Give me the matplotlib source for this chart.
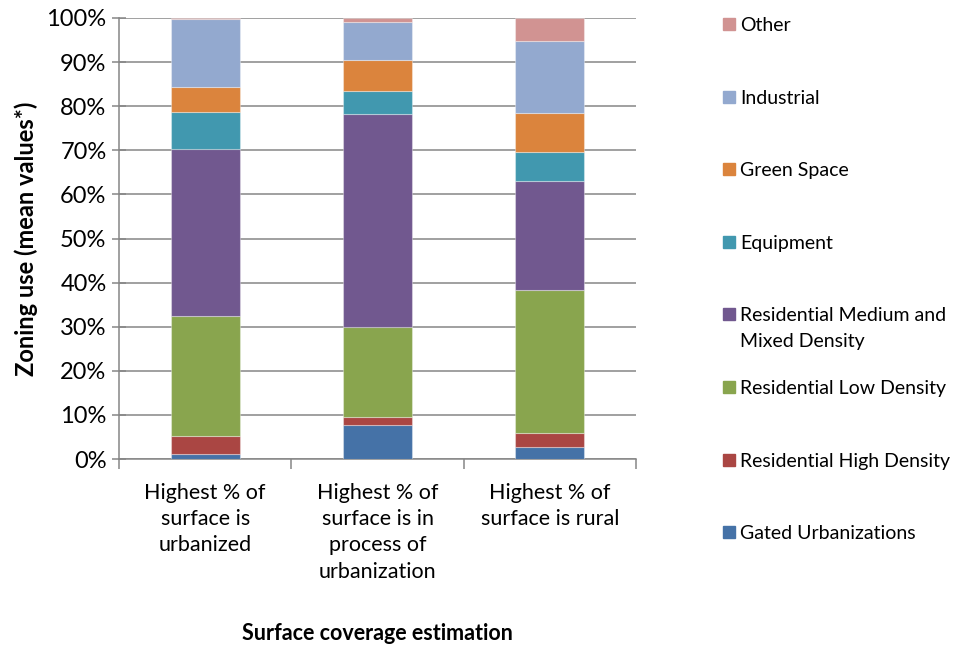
import numpy as np
import matplotlib.pyplot as plt
from matplotlib.patches import Rectangle
from matplotlib.ticker import PercentFormatter

plt.rcParams['font.family'] = ['Lato', 'DejaVu Sans']

# zoning use shares (%) per surface coverage class
categories = ['Highest % of\nsurface is\nurbanized',
              'Highest % of\nsurface is in\nprocess of\nurbanization',
              'Highest % of\nsurface is rural']
series = ['Gated Urbanizations', 'Residential High Density', 'Residential Low Density',
          'Residential Medium and\nMixed Density', 'Equipment', 'Green Space',
          'Industrial', 'Other']
gated = [1.2, 7.6, 2.8]
res_high = [4.1, 2.0, 3.1]
res_low = [27.1, 20.4, 32.5]
res_medium = [37.8, 48.2, 24.7]
equipment = [8.4, 5.3, 6.5]
green_space = [5.7, 7.0, 8.8]
industrial = [15.4, 8.5, 16.3]
other = [0.3, 1.0, 5.3]
colors = ['#4572A7', '#AA4643', '#89A54E', '#71588F', '#4198AF', '#DB843D', '#93A9CF', '#D19392']

values = np.array([gated, res_high, res_low, res_medium, equipment, green_space, industrial, other])
values = values / values.sum(axis=0) * 100

fig = plt.figure(figsize=(9.55, 6.51), dpi=100)
ax = fig.add_axes([119 / 955, 1 - 459 / 651, 517 / 955, 441 / 651])

x = np.arange(len(categories))
bottom = np.zeros(len(categories))
for vals, col in zip(values, colors):
    ax.bar(x, vals, 0.4, bottom=bottom, color=col, edgecolor=(1, 1, 1, 0.35), linewidth=0.8, zorder=3)
    bottom += vals

ax.set_xlim(-0.5, 2.5)
ax.set_ylim(0, 100)
ax.set_yticks(np.arange(0, 101, 10))
ax.yaxis.set_major_formatter(PercentFormatter(decimals=0))
ax.grid(axis='y', color='#868686', linewidth=1.1, zorder=0)
ax.set_axisbelow(True)

for s in ['top', 'right']:
    ax.spines[s].set_visible(False)
for s in ['left', 'bottom']:
    ax.spines[s].set_color('#868686')
    ax.spines[s].set_linewidth(1.1)

ax.set_xticks(x)
ax.set_xticklabels(categories, fontsize=15.5, linespacing=1.4, va='top')
ax.set_xticks([-0.5, 0.5, 1.5, 2.5], minor=True)
ax.tick_params(axis='x', which='major', length=0, pad=17)
ax.tick_params(axis='x', which='minor', length=7, color='#868686', width=1.1)
ax.tick_params(axis='y', direction='inout', length=10, color='#868686', width=1.1, labelsize=17, pad=4)

ax.set_ylabel('Zoning use (mean values*)', fontsize=17, fontweight='bold', labelpad=6)
fig.text(377 / 955, 1 - 633 / 651, 'Surface coverage estimation', fontsize=15.5,
         fontweight='bold', ha='center', va='center')

# legend: top entry is the last stacked series
for i, (name, col) in enumerate(zip(series[::-1], colors[::-1])):
    yc = 24 + i * 72.6
    fig.add_artist(Rectangle((723 / 955, 1 - (yc + 6) / 651), 12 / 955, 12 / 651,
                             transform=fig.transFigure, color=col))
    fig.text(740 / 955, 1 - (yc - 7) / 651, name, fontsize=14, ha='left', va='top',
             linespacing=1.6)

fig.savefig('out.png', dpi=100)
